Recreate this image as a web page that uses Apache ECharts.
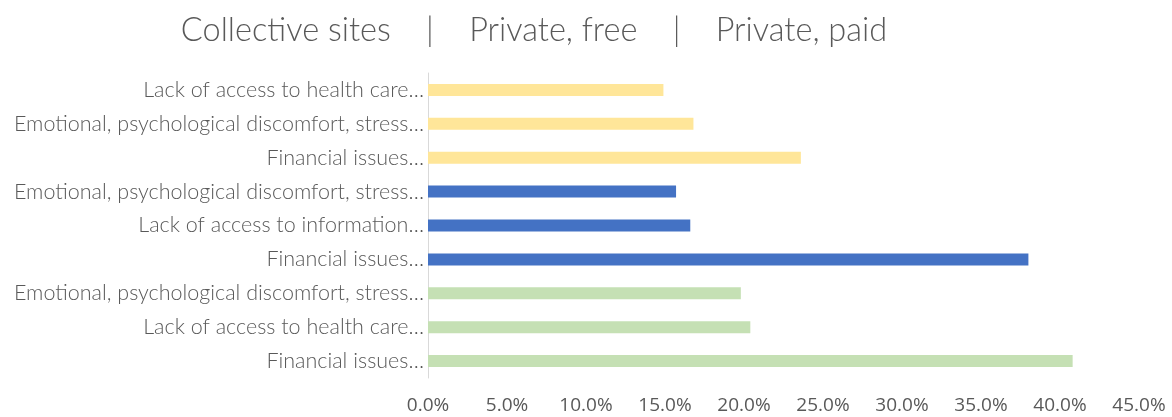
<!DOCTYPE html>
<html>
<head>
<meta charset="utf-8">
<script src="https://cdn.jsdelivr.net/npm/echarts@6/dist/echarts.min.js"></script>
<style>
  html, body { margin: 0; padding: 0; background: #fff; }
  #chart { width: 1172px; height: 417px; }
</style>
</head>
<body>
<div id="chart"></div>
<script>
  // bottom to top, as ECharts draws category axes
  var categories = [
    'Financial issues…',
    'Lack of access to health care…',
    'Emotional, psychological discomfort, stress…',
    'Financial issues…',
    'Lack of access to information…',
    'Emotional, psychological discomfort, stress…',
    'Financial issues…',
    'Emotional, psychological discomfort, stress…',
    'Lack of access to health care…'
  ];
  var collectiveSites = [40.8, 20.4, 19.8, null, null, null, null, null, null];
  var privateFree = [null, null, null, 38.0, 16.6, 15.7, null, null, null];
  var privatePaid = [null, null, null, null, null, null, 23.6, 16.8, 14.9];
  var tickValues = [0, 5, 10, 15, 20, 25, 30, 35, 40, 45];

  var chart = echarts.init(document.getElementById('chart'));

  function barSeries(name, data, color) {
    return {
      name: name,
      type: 'bar',
      data: data,
      barWidth: 12,
      barGap: '-100%',
      itemStyle: { color: color },
      animation: false
    };
  }

  var option = {
    title: {
      text: 'Collective sites    |    Private, free    |    Private, paid',
      left: 529,
      textAlign: 'center',
      top: 9,
      textStyle: {
        fontFamily: 'Lato',
        fontWeight: 300,
        fontSize: 32.5,
        color: '#595959'
      }
    },
    grid: { left: 428, right: 33, top: 73, bottom: 39, containLabel: false },
    xAxis: {
      type: 'value',
      min: tickValues[0],
      max: tickValues[tickValues.length - 1],
      interval: 5,
      splitLine: { show: false },
      axisLine: { show: false },
      axisTick: { show: false },
      axisLabel: {
        margin: 18,
        fontFamily: 'Open Sans',
        fontSize: 19,
        color: '#595959',
        formatter: function (v) { return v.toFixed(1) + '%'; }
      }
    },
    yAxis: {
      type: 'category',
      data: categories,
      axisLine: { show: true, lineStyle: { color: '#D9D9D9', width: 1 } },
      axisTick: { show: false },
      axisLabel: {
        margin: 4,
        fontFamily: 'Lato',
        fontWeight: 300,
        fontSize: 21.5,
        color: '#595959'
      }
    },
    series: [
      barSeries('Collective sites', collectiveSites, '#C5E0B4'),
      barSeries('Private, free', privateFree, '#4472C4'),
      barSeries('Private, paid', privatePaid, '#FFE699')
    ]
  };
  chart.setOption(option);
</script>
</body>
</html>
